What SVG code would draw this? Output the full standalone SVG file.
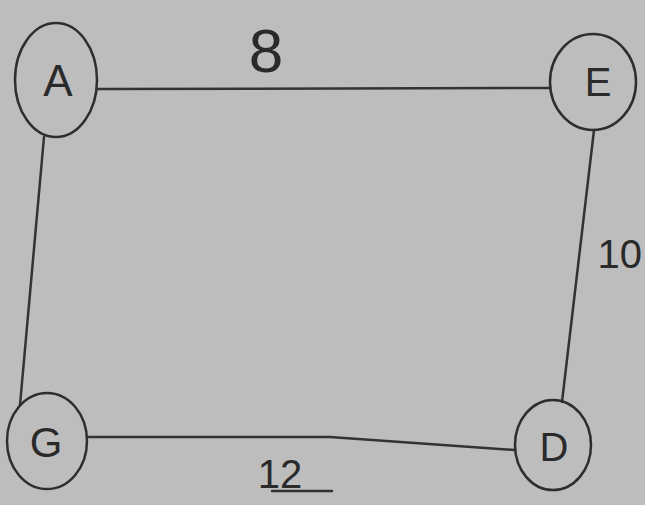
<svg xmlns="http://www.w3.org/2000/svg" width="645" height="505" viewBox="0 0 645 505">
<style>
.node{fill:none;stroke:#2e2e2e;stroke-width:2.5}
.edge{fill:none;stroke:#333;stroke-width:2.5;stroke-linecap:round}
.lbl{font-family:"Liberation Sans","DejaVu Sans",sans-serif;fill:#2a2a2a;text-anchor:middle}
</style>
<rect width="645" height="505" fill="#bdbdbd"/>
<g id="connectors">
<line class="edge" x1="97" y1="89" x2="550" y2="88"/>
<line class="edge" x1="44" y1="137" x2="20" y2="405"/>
<line class="edge" x1="594" y1="130" x2="562" y2="402"/>
<polyline class="edge" points="88,437 330,437 515,450"/>
<text class="lbl" x="266" y="72" font-size="62">8</text>
<text class="lbl" x="642" y="268" font-size="40" text-anchor="end" style="text-anchor:end">10</text>
<text class="lbl" x="280" y="488" font-size="40">12</text>
<line class="edge" x1="272" y1="491" x2="332" y2="491" stroke-width="2"/>
</g>
<g id="A"><ellipse class="node" cx="56" cy="80" rx="41" ry="57"/><text class="lbl" x="58" y="96" font-size="44">A</text></g>
<g id="E"><ellipse class="node" cx="593" cy="82" rx="43" ry="48"/><text class="lbl" x="598" y="96" font-size="40">E</text></g>
<g id="G"><ellipse class="node" cx="47" cy="441" rx="40" ry="48"/><text class="lbl" x="46" y="457" font-size="42">G</text></g>
<g id="D"><ellipse class="node" cx="553" cy="445" rx="38" ry="45"/><text class="lbl" x="554" y="461" font-size="40">D</text></g>
</svg>
